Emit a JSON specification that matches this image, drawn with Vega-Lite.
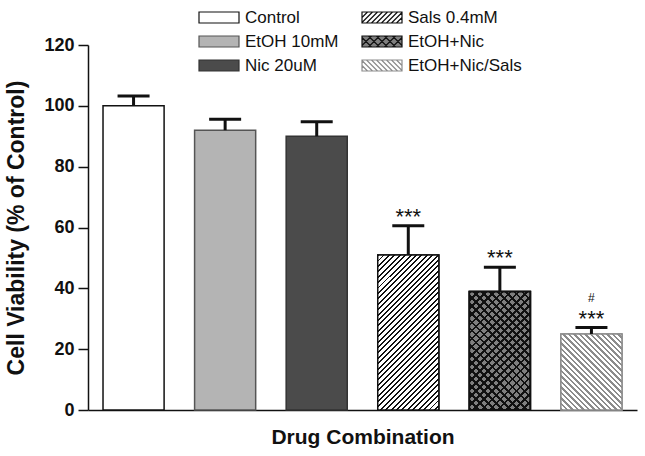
{
  "$schema": "https://vega.github.io/schema/vega-lite/v6.json",
  "autosize": {"type": "none"},
  "padding": {"left": 88, "top": 45, "right": 8, "bottom": 46},
  "width": 549,
  "height": 365,
  "background": "white",
  "config": {
    "font": "Liberation Sans",
    "view": {"stroke": null},
    "axis": {"domainColor": "#111", "domainWidth": 1.5, "tickColor": "#111", "tickWidth": 1.5, "labelColor": "#111", "titleColor": "#111", "grid": false, "titleFont": "Liberation Sans", "labelFont": "Liberation Sans"}
  },
  "data": {"values": [
    {"group": "Control", "value": 100, "hi": 103.2},
    {"group": "EtOH 10mM", "value": 92, "hi": 95.6},
    {"group": "Nic 20uM", "value": 90, "hi": 94.8},
    {"group": "Sals 0.4mM", "value": 51, "hi": 60.6, "sig": "***"},
    {"group": "EtOH+Nic", "value": 39, "hi": 46.9, "sig": "***"},
    {"group": "EtOH+Nic/Sals", "value": 25, "hi": 27.1, "sig": "***", "sig2": "#"}
  ]},
  "encoding": {
    "x": {"field": "group", "type": "nominal",
      "scale": {"domain": ["Control", "EtOH 10mM", "Nic 20uM", "Sals 0.4mM", "EtOH+Nic", "EtOH+Nic/Sals"], "paddingInner": 0.333, "paddingOuter": 0.164},
      "axis": {"labels": false, "ticks": false, "domain": true, "title": "Drug Combination", "titleFontSize": 21, "titleFontWeight": "bold", "titlePadding": 16}}
  },
  "layer": [
    {
      "mark": {"type": "bar", "strokeWidth": 1.5},
      "encoding": {
        "y": {"field": "value", "type": "quantitative",
          "scale": {"domain": [0, 120], "nice": false},
          "axis": {"values": [0, 20, 40, 60, 80, 100, 120], "tickSize": 10, "labelPadding": 4, "labelFontSize": 18, "labelFontWeight": "bold", "titleFontSize": 23, "titleFontWeight": "bold", "titlePadding": 15},
          "title": "Cell Viability (% of Control)"},
        "fill": {"field": "group", "type": "nominal",
          "scale": {"domain": ["Control", "EtOH 10mM", "Nic 20uM", "Sals 0.4mM", "EtOH+Nic", "EtOH+Nic/Sals"], "range": ["#ffffff", "#b4b4b4", "#4b4b4b", "#ffffff", "#7f7f7f", "#ffffff"]}},
        "stroke": {"field": "group", "type": "nominal",
          "scale": {"domain": ["Control", "EtOH 10mM", "Nic 20uM", "Sals 0.4mM", "EtOH+Nic", "EtOH+Nic/Sals"], "range": ["#111111", "#555555", "#333333", "#111111", "#111111", "#8c8c8c"]}}
      }
    },
    {
      "mark": {"type": "point", "filled": true, "size": 0, "strokeWidth": 1.2, "opacity": 1},
      "encoding": {
        "y": {"field": "value", "type": "quantitative", "title": "Cell Viability (% of Control)"},
        "fill": {"field": "group", "type": "nominal",
          "legend": {"orient": "none", "legendX": 120, "legendY": -38.5, "columns": 2, "title": null, "padding": 0,
            "symbolSize": 400, "symbolStrokeWidth": 1.2,
            "labelFontSize": 17, "labelColor": "#111", "labelOffset": 15, "rowPadding": 5, "columnPadding": 20}},
        "stroke": {"field": "group", "type": "nominal"},
        "shape": {"field": "group", "type": "nominal",
          "scale": {"domain": ["Control", "EtOH 10mM", "Nic 20uM", "Sals 0.4mM", "EtOH+Nic", "EtOH+Nic/Sals"],
            "range": [
              "M-2,-0.55H2V0.55H-2Z",
              "M-2,-0.55H2V0.55H-2Z",
              "M-2,-0.55H2V0.55H-2Z",
              "M-2,-0.55H2V0.55H-2Z M-2,0L-1.45,-0.55 M-2,0.5L-0.95,-0.55 M-1.55,0.55L-0.45,-0.55 M-1.05,0.55L0.05,-0.55 M-0.55,0.55L0.55,-0.55 M-0.05,0.55L1.05,-0.55 M0.45,0.55L1.55,-0.55 M0.95,0.55L2,-0.5 M1.45,0.55L2,0",
              "M-2,-0.55H2V0.55H-2Z M-2,0.4L-1.05,-0.55 M-1.35,0.55L-0.25,-0.55 M-0.55,0.55L0.55,-0.55 M0.25,0.55L1.35,-0.55 M1.05,0.55L2,-0.4 M2,0.4L1.05,-0.55 M1.35,0.55L0.25,-0.55 M0.55,0.55L-0.55,-0.55 M-0.25,0.55L-1.35,-0.55 M-1.05,0.55L-2,-0.4",
              "M-2,-0.55H2V0.55H-2Z M2,0L1.45,-0.55 M2,0.5L0.95,-0.55 M1.55,0.55L0.45,-0.55 M1.05,0.55L-0.05,-0.55 M0.55,0.55L-0.55,-0.55 M0.05,0.55L-1.05,-0.55 M-0.45,0.55L-1.55,-0.55 M-0.95,0.55L-2,-0.5 M-1.45,0.55L-2,0"
            ]}}
      }
    },
    {
      "transform": [{"filter": "datum.group === 'Sals 0.4mM'"}],
      "mark": {"type": "bar", "strokeWidth": 1.5, "stroke": "#111",
        "fill": {"gradient": "linear", "x1": 0, "y1": 0, "x2": 0.4746, "y2": 1.2066, "stops": [
          {"offset": 0, "color": "#111"}, {"offset": 0.009, "color": "#111"}, {"offset": 0.009, "color": "#fff"}, {"offset": 0.025, "color": "#fff"},
          {"offset": 0.025, "color": "#111"}, {"offset": 0.034, "color": "#111"}, {"offset": 0.034, "color": "#fff"}, {"offset": 0.05, "color": "#fff"},
          {"offset": 0.05, "color": "#111"}, {"offset": 0.059, "color": "#111"}, {"offset": 0.059, "color": "#fff"}, {"offset": 0.075, "color": "#fff"},
          {"offset": 0.075, "color": "#111"}, {"offset": 0.084, "color": "#111"}, {"offset": 0.084, "color": "#fff"}, {"offset": 0.1, "color": "#fff"},
          {"offset": 0.1, "color": "#111"}, {"offset": 0.109, "color": "#111"}, {"offset": 0.109, "color": "#fff"}, {"offset": 0.125, "color": "#fff"},
          {"offset": 0.125, "color": "#111"}, {"offset": 0.134, "color": "#111"}, {"offset": 0.134, "color": "#fff"}, {"offset": 0.15, "color": "#fff"},
          {"offset": 0.15, "color": "#111"}, {"offset": 0.159, "color": "#111"}, {"offset": 0.159, "color": "#fff"}, {"offset": 0.175, "color": "#fff"},
          {"offset": 0.175, "color": "#111"}, {"offset": 0.184, "color": "#111"}, {"offset": 0.184, "color": "#fff"}, {"offset": 0.2, "color": "#fff"},
          {"offset": 0.2, "color": "#111"}, {"offset": 0.209, "color": "#111"}, {"offset": 0.209, "color": "#fff"}, {"offset": 0.225, "color": "#fff"},
          {"offset": 0.225, "color": "#111"}, {"offset": 0.234, "color": "#111"}, {"offset": 0.234, "color": "#fff"}, {"offset": 0.25, "color": "#fff"},
          {"offset": 0.25, "color": "#111"}, {"offset": 0.259, "color": "#111"}, {"offset": 0.259, "color": "#fff"}, {"offset": 0.275, "color": "#fff"},
          {"offset": 0.275, "color": "#111"}, {"offset": 0.284, "color": "#111"}, {"offset": 0.284, "color": "#fff"}, {"offset": 0.3, "color": "#fff"},
          {"offset": 0.3, "color": "#111"}, {"offset": 0.309, "color": "#111"}, {"offset": 0.309, "color": "#fff"}, {"offset": 0.325, "color": "#fff"},
          {"offset": 0.325, "color": "#111"}, {"offset": 0.334, "color": "#111"}, {"offset": 0.334, "color": "#fff"}, {"offset": 0.35, "color": "#fff"},
          {"offset": 0.35, "color": "#111"}, {"offset": 0.359, "color": "#111"}, {"offset": 0.359, "color": "#fff"}, {"offset": 0.375, "color": "#fff"},
          {"offset": 0.375, "color": "#111"}, {"offset": 0.384, "color": "#111"}, {"offset": 0.384, "color": "#fff"}, {"offset": 0.4, "color": "#fff"},
          {"offset": 0.4, "color": "#111"}, {"offset": 0.409, "color": "#111"}, {"offset": 0.409, "color": "#fff"}, {"offset": 0.425, "color": "#fff"},
          {"offset": 0.425, "color": "#111"}, {"offset": 0.434, "color": "#111"}, {"offset": 0.434, "color": "#fff"}, {"offset": 0.45, "color": "#fff"},
          {"offset": 0.45, "color": "#111"}, {"offset": 0.459, "color": "#111"}, {"offset": 0.459, "color": "#fff"}, {"offset": 0.475, "color": "#fff"},
          {"offset": 0.475, "color": "#111"}, {"offset": 0.484, "color": "#111"}, {"offset": 0.484, "color": "#fff"}, {"offset": 0.5, "color": "#fff"},
          {"offset": 0.5, "color": "#111"}, {"offset": 0.509, "color": "#111"}, {"offset": 0.509, "color": "#fff"}, {"offset": 0.525, "color": "#fff"},
          {"offset": 0.525, "color": "#111"}, {"offset": 0.534, "color": "#111"}, {"offset": 0.534, "color": "#fff"}, {"offset": 0.55, "color": "#fff"},
          {"offset": 0.55, "color": "#111"}, {"offset": 0.559, "color": "#111"}, {"offset": 0.559, "color": "#fff"}, {"offset": 0.575, "color": "#fff"},
          {"offset": 0.575, "color": "#111"}, {"offset": 0.584, "color": "#111"}, {"offset": 0.584, "color": "#fff"}, {"offset": 0.6, "color": "#fff"},
          {"offset": 0.6, "color": "#111"}, {"offset": 0.609, "color": "#111"}, {"offset": 0.609, "color": "#fff"}, {"offset": 0.625, "color": "#fff"},
          {"offset": 0.625, "color": "#111"}, {"offset": 0.634, "color": "#111"}, {"offset": 0.634, "color": "#fff"}, {"offset": 0.65, "color": "#fff"},
          {"offset": 0.65, "color": "#111"}, {"offset": 0.659, "color": "#111"}, {"offset": 0.659, "color": "#fff"}, {"offset": 0.675, "color": "#fff"},
          {"offset": 0.675, "color": "#111"}, {"offset": 0.684, "color": "#111"}, {"offset": 0.684, "color": "#fff"}, {"offset": 0.7, "color": "#fff"},
          {"offset": 0.7, "color": "#111"}, {"offset": 0.709, "color": "#111"}, {"offset": 0.709, "color": "#fff"}, {"offset": 0.725, "color": "#fff"},
          {"offset": 0.725, "color": "#111"}, {"offset": 0.734, "color": "#111"}, {"offset": 0.734, "color": "#fff"}, {"offset": 0.75, "color": "#fff"},
          {"offset": 0.75, "color": "#111"}, {"offset": 0.759, "color": "#111"}, {"offset": 0.759, "color": "#fff"}, {"offset": 0.775, "color": "#fff"},
          {"offset": 0.775, "color": "#111"}, {"offset": 0.784, "color": "#111"}, {"offset": 0.784, "color": "#fff"}, {"offset": 0.8, "color": "#fff"},
          {"offset": 0.8, "color": "#111"}, {"offset": 0.809, "color": "#111"}, {"offset": 0.809, "color": "#fff"}, {"offset": 0.825, "color": "#fff"},
          {"offset": 0.825, "color": "#111"}, {"offset": 0.834, "color": "#111"}, {"offset": 0.834, "color": "#fff"}, {"offset": 0.85, "color": "#fff"},
          {"offset": 0.85, "color": "#111"}, {"offset": 0.859, "color": "#111"}, {"offset": 0.859, "color": "#fff"}, {"offset": 0.875, "color": "#fff"},
          {"offset": 0.875, "color": "#111"}, {"offset": 0.884, "color": "#111"}, {"offset": 0.884, "color": "#fff"}, {"offset": 0.9, "color": "#fff"},
          {"offset": 0.9, "color": "#111"}, {"offset": 0.909, "color": "#111"}, {"offset": 0.909, "color": "#fff"}, {"offset": 0.925, "color": "#fff"},
          {"offset": 0.925, "color": "#111"}, {"offset": 0.934, "color": "#111"}, {"offset": 0.934, "color": "#fff"}, {"offset": 0.95, "color": "#fff"},
          {"offset": 0.95, "color": "#111"}, {"offset": 0.959, "color": "#111"}, {"offset": 0.959, "color": "#fff"}, {"offset": 0.975, "color": "#fff"},
          {"offset": 0.975, "color": "#111"}, {"offset": 0.984, "color": "#111"}, {"offset": 0.984, "color": "#fff"}, {"offset": 1, "color": "#fff"}]}},
      "encoding": {"y": {"field": "value", "type": "quantitative", "title": "Cell Viability (% of Control)"}}
    },
    {
      "transform": [{"filter": "datum.group === 'EtOH+Nic/Sals'"}],
      "mark": {"type": "bar", "strokeWidth": 1.5, "stroke": "#8c8c8c",
        "fill": {"gradient": "linear", "x1": 0, "y1": 1, "x2": 0.88, "y2": -0.0966, "stops": [
          {"offset": 0, "color": "#8c8c8c"}, {"offset": 0.018, "color": "#8c8c8c"}, {"offset": 0.018, "color": "#fff"}, {"offset": 0.04, "color": "#fff"},
          {"offset": 0.04, "color": "#8c8c8c"}, {"offset": 0.058, "color": "#8c8c8c"}, {"offset": 0.058, "color": "#fff"}, {"offset": 0.08, "color": "#fff"},
          {"offset": 0.08, "color": "#8c8c8c"}, {"offset": 0.098, "color": "#8c8c8c"}, {"offset": 0.098, "color": "#fff"}, {"offset": 0.12, "color": "#fff"},
          {"offset": 0.12, "color": "#8c8c8c"}, {"offset": 0.138, "color": "#8c8c8c"}, {"offset": 0.138, "color": "#fff"}, {"offset": 0.16, "color": "#fff"},
          {"offset": 0.16, "color": "#8c8c8c"}, {"offset": 0.178, "color": "#8c8c8c"}, {"offset": 0.178, "color": "#fff"}, {"offset": 0.2, "color": "#fff"},
          {"offset": 0.2, "color": "#8c8c8c"}, {"offset": 0.218, "color": "#8c8c8c"}, {"offset": 0.218, "color": "#fff"}, {"offset": 0.24, "color": "#fff"},
          {"offset": 0.24, "color": "#8c8c8c"}, {"offset": 0.258, "color": "#8c8c8c"}, {"offset": 0.258, "color": "#fff"}, {"offset": 0.28, "color": "#fff"},
          {"offset": 0.28, "color": "#8c8c8c"}, {"offset": 0.298, "color": "#8c8c8c"}, {"offset": 0.298, "color": "#fff"}, {"offset": 0.32, "color": "#fff"},
          {"offset": 0.32, "color": "#8c8c8c"}, {"offset": 0.338, "color": "#8c8c8c"}, {"offset": 0.338, "color": "#fff"}, {"offset": 0.36, "color": "#fff"},
          {"offset": 0.36, "color": "#8c8c8c"}, {"offset": 0.378, "color": "#8c8c8c"}, {"offset": 0.378, "color": "#fff"}, {"offset": 0.4, "color": "#fff"},
          {"offset": 0.4, "color": "#8c8c8c"}, {"offset": 0.418, "color": "#8c8c8c"}, {"offset": 0.418, "color": "#fff"}, {"offset": 0.44, "color": "#fff"},
          {"offset": 0.44, "color": "#8c8c8c"}, {"offset": 0.458, "color": "#8c8c8c"}, {"offset": 0.458, "color": "#fff"}, {"offset": 0.48, "color": "#fff"},
          {"offset": 0.48, "color": "#8c8c8c"}, {"offset": 0.498, "color": "#8c8c8c"}, {"offset": 0.498, "color": "#fff"}, {"offset": 0.52, "color": "#fff"},
          {"offset": 0.52, "color": "#8c8c8c"}, {"offset": 0.538, "color": "#8c8c8c"}, {"offset": 0.538, "color": "#fff"}, {"offset": 0.56, "color": "#fff"},
          {"offset": 0.56, "color": "#8c8c8c"}, {"offset": 0.578, "color": "#8c8c8c"}, {"offset": 0.578, "color": "#fff"}, {"offset": 0.6, "color": "#fff"},
          {"offset": 0.6, "color": "#8c8c8c"}, {"offset": 0.618, "color": "#8c8c8c"}, {"offset": 0.618, "color": "#fff"}, {"offset": 0.64, "color": "#fff"},
          {"offset": 0.64, "color": "#8c8c8c"}, {"offset": 0.658, "color": "#8c8c8c"}, {"offset": 0.658, "color": "#fff"}, {"offset": 0.68, "color": "#fff"},
          {"offset": 0.68, "color": "#8c8c8c"}, {"offset": 0.698, "color": "#8c8c8c"}, {"offset": 0.698, "color": "#fff"}, {"offset": 0.72, "color": "#fff"},
          {"offset": 0.72, "color": "#8c8c8c"}, {"offset": 0.738, "color": "#8c8c8c"}, {"offset": 0.738, "color": "#fff"}, {"offset": 0.76, "color": "#fff"},
          {"offset": 0.76, "color": "#8c8c8c"}, {"offset": 0.778, "color": "#8c8c8c"}, {"offset": 0.778, "color": "#fff"}, {"offset": 0.8, "color": "#fff"},
          {"offset": 0.8, "color": "#8c8c8c"}, {"offset": 0.818, "color": "#8c8c8c"}, {"offset": 0.818, "color": "#fff"}, {"offset": 0.84, "color": "#fff"},
          {"offset": 0.84, "color": "#8c8c8c"}, {"offset": 0.858, "color": "#8c8c8c"}, {"offset": 0.858, "color": "#fff"}, {"offset": 0.88, "color": "#fff"},
          {"offset": 0.88, "color": "#8c8c8c"}, {"offset": 0.898, "color": "#8c8c8c"}, {"offset": 0.898, "color": "#fff"}, {"offset": 0.92, "color": "#fff"},
          {"offset": 0.92, "color": "#8c8c8c"}, {"offset": 0.938, "color": "#8c8c8c"}, {"offset": 0.938, "color": "#fff"}, {"offset": 0.96, "color": "#fff"},
          {"offset": 0.96, "color": "#8c8c8c"}, {"offset": 0.978, "color": "#8c8c8c"}, {"offset": 0.978, "color": "#fff"}, {"offset": 1, "color": "#fff"}]}},
      "encoding": {"y": {"field": "value", "type": "quantitative", "title": "Cell Viability (% of Control)"}}
    },
    {
      "transform": [{"filter": "datum.group === 'EtOH+Nic'"}],
      "mark": {"type": "bar", "strokeWidth": 1.5, "stroke": "#111",
        "fill": {"gradient": "linear", "x1": 0, "y1": 0, "x2": 0.616, "y2": 1.1975, "stops": [
          {"offset": 0, "color": "#111"}, {"offset": 0.015, "color": "#111"}, {"offset": 0.015, "color": "rgba(0,0,0,0)"}, {"offset": 0.045, "color": "rgba(0,0,0,0)"},
          {"offset": 0.045, "color": "#111"}, {"offset": 0.06, "color": "#111"}, {"offset": 0.06, "color": "rgba(0,0,0,0)"}, {"offset": 0.09, "color": "rgba(0,0,0,0)"},
          {"offset": 0.09, "color": "#111"}, {"offset": 0.105, "color": "#111"}, {"offset": 0.105, "color": "rgba(0,0,0,0)"}, {"offset": 0.135, "color": "rgba(0,0,0,0)"},
          {"offset": 0.135, "color": "#111"}, {"offset": 0.15, "color": "#111"}, {"offset": 0.15, "color": "rgba(0,0,0,0)"}, {"offset": 0.18, "color": "rgba(0,0,0,0)"},
          {"offset": 0.18, "color": "#111"}, {"offset": 0.195, "color": "#111"}, {"offset": 0.195, "color": "rgba(0,0,0,0)"}, {"offset": 0.225, "color": "rgba(0,0,0,0)"},
          {"offset": 0.225, "color": "#111"}, {"offset": 0.24, "color": "#111"}, {"offset": 0.24, "color": "rgba(0,0,0,0)"}, {"offset": 0.27, "color": "rgba(0,0,0,0)"},
          {"offset": 0.27, "color": "#111"}, {"offset": 0.285, "color": "#111"}, {"offset": 0.285, "color": "rgba(0,0,0,0)"}, {"offset": 0.315, "color": "rgba(0,0,0,0)"},
          {"offset": 0.315, "color": "#111"}, {"offset": 0.33, "color": "#111"}, {"offset": 0.33, "color": "rgba(0,0,0,0)"}, {"offset": 0.36, "color": "rgba(0,0,0,0)"},
          {"offset": 0.36, "color": "#111"}, {"offset": 0.375, "color": "#111"}, {"offset": 0.375, "color": "rgba(0,0,0,0)"}, {"offset": 0.405, "color": "rgba(0,0,0,0)"},
          {"offset": 0.405, "color": "#111"}, {"offset": 0.42, "color": "#111"}, {"offset": 0.42, "color": "rgba(0,0,0,0)"}, {"offset": 0.45, "color": "rgba(0,0,0,0)"},
          {"offset": 0.45, "color": "#111"}, {"offset": 0.465, "color": "#111"}, {"offset": 0.465, "color": "rgba(0,0,0,0)"}, {"offset": 0.495, "color": "rgba(0,0,0,0)"},
          {"offset": 0.495, "color": "#111"}, {"offset": 0.51, "color": "#111"}, {"offset": 0.51, "color": "rgba(0,0,0,0)"}, {"offset": 0.54, "color": "rgba(0,0,0,0)"},
          {"offset": 0.54, "color": "#111"}, {"offset": 0.555, "color": "#111"}, {"offset": 0.555, "color": "rgba(0,0,0,0)"}, {"offset": 0.585, "color": "rgba(0,0,0,0)"},
          {"offset": 0.585, "color": "#111"}, {"offset": 0.6, "color": "#111"}, {"offset": 0.6, "color": "rgba(0,0,0,0)"}, {"offset": 0.63, "color": "rgba(0,0,0,0)"},
          {"offset": 0.63, "color": "#111"}, {"offset": 0.645, "color": "#111"}, {"offset": 0.645, "color": "rgba(0,0,0,0)"}, {"offset": 0.675, "color": "rgba(0,0,0,0)"},
          {"offset": 0.675, "color": "#111"}, {"offset": 0.69, "color": "#111"}, {"offset": 0.69, "color": "rgba(0,0,0,0)"}, {"offset": 0.72, "color": "rgba(0,0,0,0)"},
          {"offset": 0.72, "color": "#111"}, {"offset": 0.735, "color": "#111"}, {"offset": 0.735, "color": "rgba(0,0,0,0)"}, {"offset": 0.765, "color": "rgba(0,0,0,0)"},
          {"offset": 0.765, "color": "#111"}, {"offset": 0.78, "color": "#111"}, {"offset": 0.78, "color": "rgba(0,0,0,0)"}, {"offset": 0.81, "color": "rgba(0,0,0,0)"},
          {"offset": 0.81, "color": "#111"}, {"offset": 0.825, "color": "#111"}, {"offset": 0.825, "color": "rgba(0,0,0,0)"}, {"offset": 0.855, "color": "rgba(0,0,0,0)"},
          {"offset": 0.855, "color": "#111"}, {"offset": 0.87, "color": "#111"}, {"offset": 0.87, "color": "rgba(0,0,0,0)"}, {"offset": 0.9, "color": "rgba(0,0,0,0)"},
          {"offset": 0.9, "color": "#111"}, {"offset": 0.915, "color": "#111"}, {"offset": 0.915, "color": "rgba(0,0,0,0)"}, {"offset": 0.945, "color": "rgba(0,0,0,0)"},
          {"offset": 0.945, "color": "#111"}, {"offset": 0.96, "color": "#111"}, {"offset": 0.96, "color": "rgba(0,0,0,0)"}, {"offset": 0.99, "color": "rgba(0,0,0,0)"},
          {"offset": 0.99, "color": "#111"}, {"offset": 1, "color": "#111"}]}},
      "encoding": {"y": {"field": "value", "type": "quantitative", "title": "Cell Viability (% of Control)"}}
    },
    {
      "transform": [{"filter": "datum.group === 'EtOH+Nic'"}],
      "mark": {"type": "bar", "strokeWidth": 1.5, "stroke": "#111",
        "fill": {"gradient": "linear", "x1": 0, "y1": 1, "x2": 0.616, "y2": -0.1975, "stops": [
          {"offset": 0, "color": "#111"}, {"offset": 0.015, "color": "#111"}, {"offset": 0.015, "color": "rgba(0,0,0,0)"}, {"offset": 0.045, "color": "rgba(0,0,0,0)"},
          {"offset": 0.045, "color": "#111"}, {"offset": 0.06, "color": "#111"}, {"offset": 0.06, "color": "rgba(0,0,0,0)"}, {"offset": 0.09, "color": "rgba(0,0,0,0)"},
          {"offset": 0.09, "color": "#111"}, {"offset": 0.105, "color": "#111"}, {"offset": 0.105, "color": "rgba(0,0,0,0)"}, {"offset": 0.135, "color": "rgba(0,0,0,0)"},
          {"offset": 0.135, "color": "#111"}, {"offset": 0.15, "color": "#111"}, {"offset": 0.15, "color": "rgba(0,0,0,0)"}, {"offset": 0.18, "color": "rgba(0,0,0,0)"},
          {"offset": 0.18, "color": "#111"}, {"offset": 0.195, "color": "#111"}, {"offset": 0.195, "color": "rgba(0,0,0,0)"}, {"offset": 0.225, "color": "rgba(0,0,0,0)"},
          {"offset": 0.225, "color": "#111"}, {"offset": 0.24, "color": "#111"}, {"offset": 0.24, "color": "rgba(0,0,0,0)"}, {"offset": 0.27, "color": "rgba(0,0,0,0)"},
          {"offset": 0.27, "color": "#111"}, {"offset": 0.285, "color": "#111"}, {"offset": 0.285, "color": "rgba(0,0,0,0)"}, {"offset": 0.315, "color": "rgba(0,0,0,0)"},
          {"offset": 0.315, "color": "#111"}, {"offset": 0.33, "color": "#111"}, {"offset": 0.33, "color": "rgba(0,0,0,0)"}, {"offset": 0.36, "color": "rgba(0,0,0,0)"},
          {"offset": 0.36, "color": "#111"}, {"offset": 0.375, "color": "#111"}, {"offset": 0.375, "color": "rgba(0,0,0,0)"}, {"offset": 0.405, "color": "rgba(0,0,0,0)"},
          {"offset": 0.405, "color": "#111"}, {"offset": 0.42, "color": "#111"}, {"offset": 0.42, "color": "rgba(0,0,0,0)"}, {"offset": 0.45, "color": "rgba(0,0,0,0)"},
          {"offset": 0.45, "color": "#111"}, {"offset": 0.465, "color": "#111"}, {"offset": 0.465, "color": "rgba(0,0,0,0)"}, {"offset": 0.495, "color": "rgba(0,0,0,0)"},
          {"offset": 0.495, "color": "#111"}, {"offset": 0.51, "color": "#111"}, {"offset": 0.51, "color": "rgba(0,0,0,0)"}, {"offset": 0.54, "color": "rgba(0,0,0,0)"},
          {"offset": 0.54, "color": "#111"}, {"offset": 0.555, "color": "#111"}, {"offset": 0.555, "color": "rgba(0,0,0,0)"}, {"offset": 0.585, "color": "rgba(0,0,0,0)"},
          {"offset": 0.585, "color": "#111"}, {"offset": 0.6, "color": "#111"}, {"offset": 0.6, "color": "rgba(0,0,0,0)"}, {"offset": 0.63, "color": "rgba(0,0,0,0)"},
          {"offset": 0.63, "color": "#111"}, {"offset": 0.645, "color": "#111"}, {"offset": 0.645, "color": "rgba(0,0,0,0)"}, {"offset": 0.675, "color": "rgba(0,0,0,0)"},
          {"offset": 0.675, "color": "#111"}, {"offset": 0.69, "color": "#111"}, {"offset": 0.69, "color": "rgba(0,0,0,0)"}, {"offset": 0.72, "color": "rgba(0,0,0,0)"},
          {"offset": 0.72, "color": "#111"}, {"offset": 0.735, "color": "#111"}, {"offset": 0.735, "color": "rgba(0,0,0,0)"}, {"offset": 0.765, "color": "rgba(0,0,0,0)"},
          {"offset": 0.765, "color": "#111"}, {"offset": 0.78, "color": "#111"}, {"offset": 0.78, "color": "rgba(0,0,0,0)"}, {"offset": 0.81, "color": "rgba(0,0,0,0)"},
          {"offset": 0.81, "color": "#111"}, {"offset": 0.825, "color": "#111"}, {"offset": 0.825, "color": "rgba(0,0,0,0)"}, {"offset": 0.855, "color": "rgba(0,0,0,0)"},
          {"offset": 0.855, "color": "#111"}, {"offset": 0.87, "color": "#111"}, {"offset": 0.87, "color": "rgba(0,0,0,0)"}, {"offset": 0.9, "color": "rgba(0,0,0,0)"},
          {"offset": 0.9, "color": "#111"}, {"offset": 0.915, "color": "#111"}, {"offset": 0.915, "color": "rgba(0,0,0,0)"}, {"offset": 0.945, "color": "rgba(0,0,0,0)"},
          {"offset": 0.945, "color": "#111"}, {"offset": 0.96, "color": "#111"}, {"offset": 0.96, "color": "rgba(0,0,0,0)"}, {"offset": 0.99, "color": "rgba(0,0,0,0)"},
          {"offset": 0.99, "color": "#111"}, {"offset": 1, "color": "#111"}]}},
      "encoding": {"y": {"field": "value", "type": "quantitative", "title": "Cell Viability (% of Control)"}}
    },
    {
      "mark": {"type": "rule", "strokeWidth": 3, "color": "#111"},
      "encoding": {"y": {"field": "value", "type": "quantitative", "title": "Cell Viability (% of Control)"}, "y2": {"field": "hi"}}
    },
    {
      "mark": {"type": "tick", "size": 32, "thickness": 3, "color": "#111", "opacity": 1, "orient": "horizontal"},
      "encoding": {"y": {"field": "hi", "type": "quantitative", "title": "Cell Viability (% of Control)"}}
    },
    {
      "transform": [{"filter": "datum.sig != null"}],
      "mark": {"type": "text", "fontSize": 22, "baseline": "alphabetic", "dy": -2, "color": "#111"},
      "encoding": {"y": {"field": "hi", "type": "quantitative", "title": "Cell Viability (% of Control)"}, "text": {"field": "sig"}}
    },
    {
      "transform": [{"filter": "datum.sig2 != null"}],
      "mark": {"type": "text", "fontSize": 12, "baseline": "alphabetic", "dy": -26, "color": "#111"},
      "encoding": {"y": {"field": "hi", "type": "quantitative", "title": "Cell Viability (% of Control)"}, "text": {"field": "sig2"}}
    }
  ]
}
